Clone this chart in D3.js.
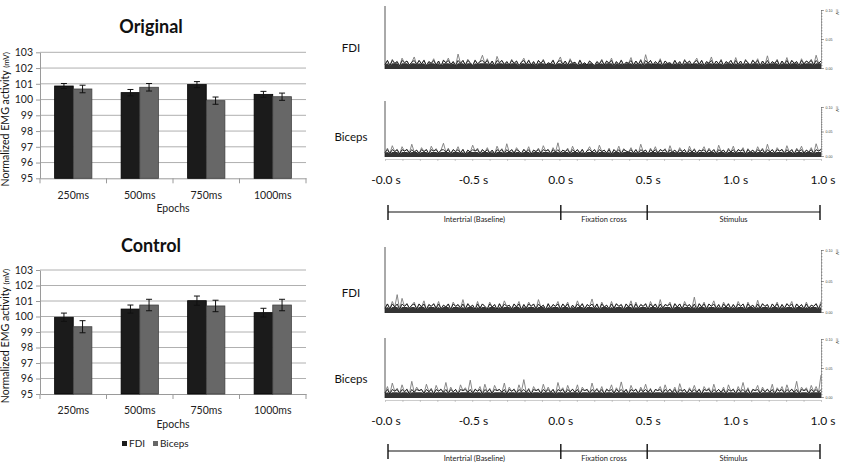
<!DOCTYPE html>
<html>
<head>
<meta charset="utf-8">
<script src="https://cdnjs.cloudflare.com/ajax/libs/d3/7.8.5/d3.min.js"></script>
<style>
body{margin:0;background:#fff;}
svg{display:block;font-family:Lato,"Open Sans",sans-serif;}
</style>
</head>
<body>
<script>
var epochs = ['250ms','500ms','750ms','1000ms'];
var series = ['FDI','Biceps'];
var yTicks = [95,96,97,98,99,100,101,102,103];

var originalFdi = [100.86,100.44,100.95,100.33];
var originalFdiErr = [0.16,0.20,0.19,0.19];
var originalBiceps = [100.67,100.78,99.93,100.18];
var originalBicepsErr = [0.24,0.24,0.23,0.23];

var controlFdi = [99.95,100.48,101.02,100.25];
var controlFdiErr = [0.27,0.26,0.30,0.28];
var controlBiceps = [99.34,100.74,100.68,100.74];
var controlBicepsErr = [0.39,0.37,0.37,0.37];

var timeLabels = ['-0.0 s','-0.5 s','0.0 s','0.5 s','1.0 s','1.0 s'];
var phaseNames = ['Intertrial (Baseline)','Fixation cross','Stimulus'];
var phaseBounds = [0,1000,1500,2500]; // ms
var emgTicks = [0,0.05,0.10];

// rectified EMG traces, in uV (0.10 mV = 100)
var originalFdiEmg = [6,13,4,15,8,11,3,17,9,12,5,10,19,6,13,7,14,4,11,8,
16,5,12,3,14,9,17,6,11,4,24,8,13,5,15,9,4,14,7,11,
22,8,16,5,12,4,20,9,13,6,11,5,15,8,12,4,10,17,6,14,
5,11,4,13,8,15,5,9,7,14,4,11,19,6,12,5,16,8,10,4,
14,6,9,5,12,8,4,11,7,15,5,12,8,17,4,11,6,14,5,10,
8,18,5,12,6,15,4,23,8,13,5,11,7,16,4,12,8,9,5,13,
6,11,4,15,8,12,5,10,17,6,13,4,11,8,19,5,12,7,15,4,
11,8,13,5,18,6,12,4,15,9,5,14,8,16,4,12,6,21,5,11,
8,15,4,12,6,18,5,13,8,11,4,16,7,12,9,15,5,22,8,12];

var originalBicepsEmg = [7,16,5,21,9,13,4,19,10,14,6,24,8,12,5,17,9,13,4,20,
10,15,6,12,26,8,16,5,13,9,19,6,14,4,12,8,22,10,16,5,
13,8,17,6,12,4,20,9,15,5,25,8,13,6,17,10,5,14,8,19,
4,12,9,16,6,21,10,13,5,17,8,27,6,12,9,16,5,20,8,13,
6,14,4,11,19,8,13,5,22,9,12,6,16,4,13,8,20,5,15,10,
8,17,6,13,5,24,9,12,4,16,8,19,6,13,10,15,5,21,8,12,
6,17,9,13,4,20,8,15,5,12,10,19,6,16,8,13,4,22,9,12,
5,16,8,20,6,13,10,17,4,15,8,12,6,19,9,16,5,24,8,13,
6,17,10,14,5,21,8,13,4,16,9,20,6,12,8,17,5,25,10,15];

var controlFdiEmg = [6,13,5,17,8,28,4,22,9,14,6,11,16,5,13,8,18,4,12,9,
14,6,17,5,11,8,13,4,16,9,12,6,20,5,14,8,11,4,17,6,
13,9,5,16,8,12,4,14,6,18,9,11,5,13,8,17,4,12,6,16,
9,13,5,20,8,11,4,14,6,12,9,17,5,13,8,16,4,11,6,18,
8,14,5,12,9,21,6,13,4,16,8,11,5,17,6,14,9,12,4,13,
8,18,5,16,6,12,9,14,4,17,8,13,5,20,6,12,10,16,4,14,
8,13,5,17,9,12,6,24,4,14,8,16,5,13,9,18,6,12,4,16,
8,14,5,12,6,17,9,13,4,16,8,11,5,19,6,14,9,12,4,13,
8,16,5,12,6,14,9,17,4,13,8,12,5,16,6,11,9,14,5,17];

var controlBicepsEmg = [7,18,5,24,10,15,6,21,9,14,5,27,8,17,11,13,6,22,9,15,
5,20,10,14,8,25,6,17,9,13,5,21,11,16,8,29,6,14,10,18,
5,22,9,15,6,20,11,13,8,24,5,17,10,14,6,21,9,30,8,15,
5,18,11,14,6,22,9,17,8,13,5,25,10,16,6,20,9,14,8,21,
5,17,11,13,6,24,9,15,8,18,5,14,10,21,6,16,9,26,8,13,
5,20,10,14,6,17,9,22,8,15,5,13,11,18,6,21,9,14,8,17,
5,23,10,13,6,16,9,20,8,14,5,18,11,16,6,22,9,13,8,17,
5,21,10,14,6,18,9,25,8,16,5,13,11,20,6,17,9,14,8,22,
5,16,10,18,6,21,9,14,8,27,5,17,11,16,6,20,9,18,8,38];

var W = 843, H = 471;
var svg = d3.select('body').append('svg').attr('width',W).attr('height',H);

var drawBars = function(cfg){
	var g = svg.append('g');
	var x = d3.scaleBand().domain(epochs).range([40,306]).paddingInner(0.44).paddingOuter(0.22);
	var xs = d3.scaleBand().domain(series).range([0,x.bandwidth()]);
	var y = d3.scaleLinear().domain([95,103]).range([cfg.bottom,cfg.top]);

	g.append('text').attr('x',151).attr('y',cfg.titleY).attr('text-anchor','middle')
		.attr('font-size',18).attr('font-weight','bold').attr('fill','#111').text(cfg.title);

	g.selectAll('line.grid').data(yTicks.slice(1)).join('line').attr('class','grid')
		.attr('x1',40).attr('x2',306).attr('y1',y).attr('y2',y)
		.attr('stroke','#b0b0b0').attr('stroke-width',1);

	var yAxis = g.append('g').attr('transform','translate(40,0)')
		.call(d3.axisLeft(y).tickValues(yTicks).tickSize(4).tickSizeOuter(0).tickPadding(3));
	yAxis.selectAll('path,line').attr('stroke','#9a9a9a');
	yAxis.selectAll('text').attr('font-size',10.5).attr('fill','#222').attr('font-family','Lato,sans-serif');

	var xAxis = g.append('g').attr('transform','translate(0,'+cfg.bottom+')')
		.call(d3.axisBottom(x).tickSize(0).tickPadding(13));
	xAxis.select('path').attr('stroke','#9a9a9a');
	xAxis.selectAll('text').attr('font-size',10.5).attr('fill','#222').attr('font-family','Lato,sans-serif');
	g.selectAll('line.sep').data(d3.range(epochs.length+1)).join('line').attr('class','sep')
		.attr('x1',function(i){return 40+i*x.step();}).attr('x2',function(i){return 40+i*x.step();})
		.attr('y1',cfg.bottom).attr('y2',cfg.bottom+5).attr('stroke','#9a9a9a');

	var rows = [];
	epochs.forEach(function(e,i){
		rows.push({epoch:e,s:'FDI',v:cfg.fdi[i],err:cfg.fdiErr[i]});
		rows.push({epoch:e,s:'Biceps',v:cfg.biceps[i],err:cfg.bicepsErr[i]});
	});

	g.selectAll('rect.bar').data(rows).join('rect').attr('class','bar')
		.attr('x',function(d){return x(d.epoch)+xs(d.s);})
		.attr('width',xs.bandwidth())
		.attr('y',function(d){return y(d.v);})
		.attr('height',function(d){return y(95)-y(d.v);})
		.attr('fill',function(d){return d.s=='FDI' ? '#1b1b1b' : '#676767';})
		.attr('stroke',function(d){return d.s=='FDI' ? '#000' : '#404040';})
		.attr('stroke-width',0.8);

	var eb = g.selectAll('g.err').data(rows).join('g').attr('class','err')
		.attr('transform',function(d){return 'translate('+(x(d.epoch)+xs(d.s)+xs.bandwidth()/2)+',0)';});
	eb.append('line').attr('y1',function(d){return y(d.v-d.err);}).attr('y2',function(d){return y(d.v+d.err);});
	eb.append('line').attr('x1',-3).attr('x2',3).attr('y1',function(d){return y(d.v+d.err);}).attr('y2',function(d){return y(d.v+d.err);});
	eb.append('line').attr('x1',-3).attr('x2',3).attr('y1',function(d){return y(d.v-d.err);}).attr('y2',function(d){return y(d.v-d.err);});
	eb.selectAll('line').attr('stroke','#111').attr('stroke-width',1);

	var cy = (cfg.top+cfg.bottom)/2+4;
	var yl = g.append('text').attr('transform','translate(9,'+cy+') rotate(-90)')
		.attr('text-anchor','middle').attr('font-size',10.6).attr('fill','#111');
	yl.append('tspan').text('Normalized EMG activity ');
	yl.append('tspan').attr('font-size',8).text('(mV)');

	g.append('text').attr('x',173).attr('y',cfg.epochY).attr('text-anchor','middle')
		.attr('font-size',10.5).attr('fill','#222').text('Epochs');
};

var drawEmg = function(cfg){
	var g = svg.append('g');
	var x = d3.scaleLinear().domain([0,cfg.data.length-1]).range([385,821]);
	var y = d3.scaleLinear().domain([0,100]).range([cfg.zero,cfg.top]);
	var yMv = d3.scaleLinear().domain([0,0.1]).range([cfg.zero,cfg.top]);

	g.append('text').attr('x',351).attr('y',cfg.labelY).attr('text-anchor','middle')
		.attr('font-size',11.5).attr('fill','#111').text(cfg.label);

	g.append('line').attr('x1',385).attr('x2',385).attr('y1',cfg.lineTop).attr('y2',cfg.zero+1)
		.attr('stroke','#555').attr('stroke-width',1);

	if(cfg.underAxis){
		var t = d3.scaleLinear().domain([0,2500]).range([385,821]);
		var ua = g.append('g').attr('transform','translate(0,'+(cfg.zero+3)+')')
			.call(d3.axisBottom(t).tickValues(d3.range(0,2501,100)).tickSize(2).tickSizeOuter(0).tickFormat(''));
		ua.selectAll('path,line').attr('stroke','#aaa').attr('stroke-width',0.6);
	}

	// dense dark core of the trace, grey spikes above it
	var core = d3.area().x(function(d,i){return x(i);}).y0(y(0)+1).y1(function(d){return y(Math.min(d,8));});
	var line = d3.line().x(function(d,i){return x(i);}).y(function(d){return y(d);});
	g.append('path').datum(cfg.data).attr('d',core).attr('fill','#1e1e1e').attr('opacity',0.9);
	g.append('path').datum(cfg.data).attr('d',line).attr('fill','none')
		.attr('stroke','#7a7a7a').attr('stroke-width',0.9);
	g.append('path').datum(cfg.data.map(function(v){return Math.min(v,13);})).attr('d',line).attr('fill','none')
		.attr('stroke','#151515').attr('stroke-width',0.9);

	var ra = g.append('g').attr('transform','translate(821,0)')
		.call(d3.axisRight(yMv).tickValues(d3.range(0,0.1001,0.005)).tickSize(1.5).tickSizeOuter(0).tickFormat(''));
	ra.selectAll('path,line').attr('stroke','#666').attr('stroke-width',0.6);
	var rl = g.append('g').attr('transform','translate(821,0)')
		.call(d3.axisRight(yMv).tickValues(emgTicks).tickSize(3).tickSizeOuter(0).tickPadding(1.5).tickFormat(d3.format('.2f')));
	rl.select('path').remove();
	rl.selectAll('line').attr('stroke','#666').attr('stroke-width',0.6);
	rl.selectAll('text').attr('font-size',3.6).attr('fill','#444');

	g.append('text').attr('transform','translate(836,'+(cfg.top+2)+') rotate(90)')
		.attr('text-anchor','middle').attr('font-size',3.6).attr('fill','#444').text('mV');
};

var drawTimeline = function(cfg){
	var g = svg.append('g');
	var p = d3.scalePoint().domain(d3.range(timeLabels.length)).range([386,823]);
	g.selectAll('text.tl').data(timeLabels).join('text').attr('class','tl')
		.attr('x',function(d,i){return p(i);}).attr('y',cfg.labelY).attr('text-anchor','middle')
		.attr('font-size',12).attr('fill','#111').text(function(d){return d;});

	var ph = d3.scaleLinear().domain([0,2500]).range([388,820]);
	g.append('line').attr('x1',ph(0)).attr('x2',ph(2500)).attr('y1',cfg.lineY).attr('y2',cfg.lineY)
		.attr('stroke','#111').attr('stroke-width',1.2);
	g.selectAll('line.pb').data(phaseBounds).join('line').attr('class','pb')
		.attr('x1',ph).attr('x2',ph).attr('y1',cfg.lineY-7).attr('y2',cfg.lineY+8)
		.attr('stroke','#111').attr('stroke-width',1.4);
	g.selectAll('text.pn').data(phaseNames).join('text').attr('class','pn')
		.attr('x',function(d,i){return (ph(phaseBounds[i])+ph(phaseBounds[i+1]))/2;})
		.attr('y',cfg.lineY+10).attr('text-anchor','middle')
		.attr('font-size',7.5).attr('fill','#222').text(function(d){return d;});
};

drawBars({title:'Original',titleY:33,top:52.3,bottom:178.3,epochY:212,
	fdi:originalFdi,fdiErr:originalFdiErr,biceps:originalBiceps,bicepsErr:originalBicepsErr});
drawBars({title:'Control',titleY:252,top:270,bottom:394,epochY:428,
	fdi:controlFdi,fdiErr:controlFdiErr,biceps:controlBiceps,bicepsErr:controlBicepsErr});

// legend
var legend = svg.append('g').selectAll('g').data(series).join('g')
	.attr('transform',function(d,i){return 'translate('+(i==0 ? 122 : 153)+',441)';});
legend.append('rect').attr('width',5).attr('height',5)
	.attr('fill',function(d){return d=='FDI' ? '#1b1b1b' : '#676767';});
legend.append('text').attr('x',7).attr('y',5.5).attr('font-size',10).attr('fill','#222')
	.text(function(d){return d;});

drawEmg({label:'FDI',labelY:52,data:originalFdiEmg,zero:68,top:10,lineTop:6});
drawEmg({label:'Biceps',labelY:141,data:originalBicepsEmg,zero:156,top:107,lineTop:101,underAxis:true});
drawTimeline({labelY:184,lineY:212});

drawEmg({label:'FDI',labelY:297,data:controlFdiEmg,zero:312,top:250,lineTop:247});
drawEmg({label:'Biceps',labelY:383,data:controlBicepsEmg,zero:397,top:339,lineTop:338,underAxis:true});
drawTimeline({labelY:425,lineY:451});
</script>
</body>
</html>
